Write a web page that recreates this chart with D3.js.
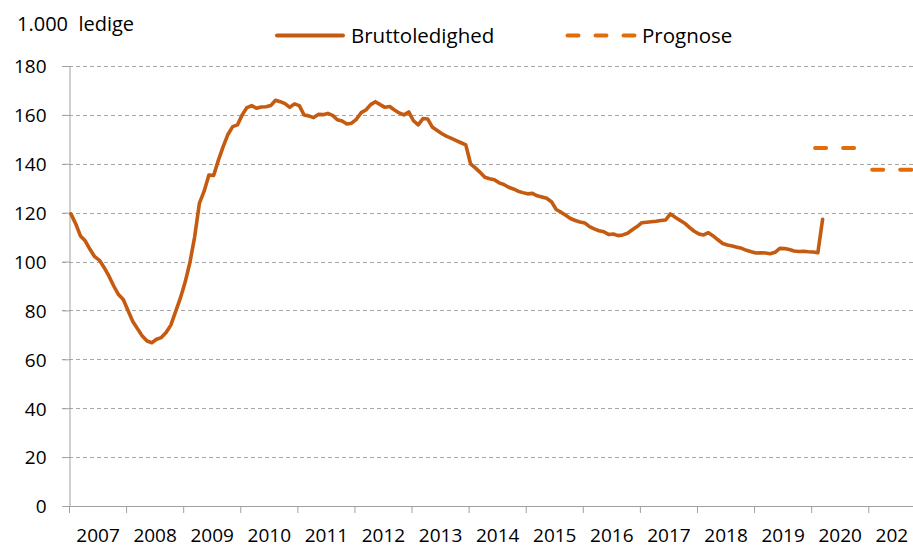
<!DOCTYPE html>
<html>
<head>
<meta charset="utf-8">
<script src="https://cdn.jsdelivr.net/npm/d3@7"></script>
<style>
  html, body { margin: 0; padding: 0; background: #fff; overflow: hidden; }
  svg { display: block; overflow: hidden; }
  text { font-family: "Open Sans", "Noto Sans", sans-serif; fill: #000; white-space: pre; }
</style>
</head>
<body>
<svg id="chart" width="913" height="547"></svg>
<script>
// ---- Data ----
const startYear = 2007;
// Monthly gross unemployment (1.000 persons), Jan 2007 .. Mar 2020
const bruttoledighed = [
  119.5, 115.5, 110.5, 108.5, 105.0, 102.0, 100.5, 97.5, 94.0, 90.0, 86.5, 84.5,
  80.0, 75.5, 72.5, 69.5, 67.5, 66.8, 68.2, 68.9, 71.0, 74.0, 79.5, 85.0,
  91.5, 99.5, 110.0, 123.8, 128.8, 135.4, 135.2, 141.5, 147.0, 152.0, 155.2, 155.9,
  160.0, 163.0, 163.8, 162.7, 163.2, 163.3, 163.8, 166.0, 165.4, 164.6, 163.1, 164.5,
  163.8, 160.0, 159.6, 158.9, 160.2, 160.1, 160.6, 159.8, 158.0, 157.5, 156.3, 156.6,
  158.2, 160.9, 162.0, 164.2, 165.4, 164.2, 163.1, 163.4, 162.0, 160.8, 160.0, 161.2,
  157.6, 155.9, 158.5, 158.3, 154.9, 153.6, 152.3, 151.2, 150.4, 149.5, 148.6, 147.7,
  140.0, 138.3, 136.5, 134.5, 133.9, 133.5, 132.2, 131.5, 130.4, 129.7, 128.8, 128.2,
  127.7, 127.9, 126.9, 126.4, 125.9, 124.5, 121.3, 120.2, 118.9, 117.6, 116.8, 116.2,
  115.8, 114.3, 113.4, 112.6, 112.2, 111.1, 111.3, 110.6, 110.9, 111.6, 113.0, 114.3,
  115.9, 116.1, 116.3, 116.5, 116.8, 117.0, 119.5, 118.1, 116.9, 115.7, 114.0, 112.4,
  111.3, 110.9, 111.8, 110.5, 108.9, 107.4, 106.8, 106.4, 105.9, 105.4, 104.6, 104.0,
  103.5, 103.6, 103.5, 103.2, 103.8, 105.4, 105.3, 104.9, 104.3, 104.1, 104.2, 104.0,
  103.9, 103.6, 117.3
];
// Forecast (annual level)
const prognoseYears = [2020, 2021];
const prognoseValues = [146.5, 137.6];

const yearLabels = ["2007","2008","2009","2010","2011","2012","2013","2014","2015","2016","2017","2018","2019","2020","2021"];
const yTicks = [0, 20, 40, 60, 80, 100, 120, 140, 160, 180];

const titleText = "1.000  ledige";
const legendLabels = ["Bruttoledighed", "Prognose"];

// ---- Layout ----
const svg = d3.select("#chart");
const x0 = 69.5, yearW = 57.09;
const x = d3.scaleLinear().domain([2007, 2022]).range([x0, x0 + 15 * yearW]);
const y = d3.scaleLinear().domain([0, 180]).range([506, 66]);

const mainColor = "#C55A11";
const progColor = "#E36C09";
const axisColor = "#A0A0A0";
const gridColor = "#A6A6A6";

svg.append("defs").append("clipPath").attr("id", "edge")
  .append("rect").attr("x", 0).attr("y", -10).attr("width", 909).attr("height", 60);

// gridlines
svg.append("g").selectAll("line").data(yTicks.filter(d => d > 0)).join("line")
  .attr("x1", 62).attr("x2", 913)
  .attr("y1", d => Math.round(y(d)) + 0.5).attr("y2", d => Math.round(y(d)) + 0.5)
  .attr("stroke", gridColor).attr("stroke-width", 1).attr("stroke-dasharray", "4,3");

// Y axis
const yAxis = d3.axisLeft(y).tickValues(yTicks).tickSize(7).tickPadding(15).tickFormat(d3.format("d"));
const gy = svg.append("g").attr("transform", `translate(${x0},0)`).call(yAxis);
gy.select(".domain").attr("stroke", axisColor);
gy.selectAll(".tick line").attr("stroke", axisColor);
gy.selectAll(".tick text").attr("font-size", 19).attr("font-family", "Open Sans").attr("fill", "#000").attr("dy", "0.36em").attr("x", -23);

// X axis (year ticks at boundaries, labels centred on years)
const tickYears = d3.range(2007, 2023);
const gx = svg.append("g").attr("transform", "translate(0,506)");
gx.append("line").attr("x1", x0).attr("x2", 913).attr("y1", 0.5).attr("y2", 0.5).attr("stroke", axisColor);
gx.selectAll("line.tk").data(tickYears).join("line").attr("class", "tk")
  .attr("x1", d => x(d)).attr("x2", d => x(d)).attr("y1", 0).attr("y2", 7)
  .attr("stroke", axisColor);
gx.append("g").attr("clip-path", "url(#edge)")
  .selectAll("text").data(yearLabels).join("text")
  .attr("x", d => x(+d + 0.5)).attr("y", 35.5)
  .attr("text-anchor", "middle").attr("font-size", 19).text(d => d);

// Main line
const monthX = i => x(startYear + (i + 0.3) / 12);
const line = d3.line().x((d, i) => monthX(i)).y(d => y(d));
svg.append("path").datum(bruttoledighed)
  .attr("d", line).attr("fill", "none").attr("stroke", mainColor)
  .attr("stroke-width", 3.6).attr("stroke-linejoin", "round").attr("stroke-linecap", "round");

// Forecast segments
prognoseYears.forEach((yr, k) => {
  const pts = [[x(yr + 0.3 / 12), y(prognoseValues[k])], [x(yr + 11.3 / 12), y(prognoseValues[k])]];
  svg.append("path").attr("d", d3.line()(pts))
    .attr("fill", "none").attr("stroke", progColor).attr("stroke-width", 4)
    .attr("stroke-linecap", "round").attr("stroke-dasharray", "11,17")
    .attr("transform", "translate(2,0)");
});

// Title
svg.append("text").attr("x", 17).attr("y", 30.5).attr("font-size", 20).text(titleText);

// Legend
svg.append("line").attr("x1", 277).attr("x2", 343).attr("y1", 35.5).attr("y2", 35.5)
  .attr("stroke", mainColor).attr("stroke-width", 4).attr("stroke-linecap", "round");
svg.append("text").attr("x", 351).attr("y", 43).attr("font-size", 20.5).text(legendLabels[0]);
svg.append("line").attr("x1", 567.5).attr("x2", 636).attr("y1", 35.5).attr("y2", 35.5)
  .attr("stroke", progColor).attr("stroke-width", 4).attr("stroke-linecap", "round")
  .attr("stroke-dasharray", "11,17");
svg.append("text").attr("x", 642).attr("y", 43).attr("font-size", 20.5).text(legendLabels[1]);
</script>
</body>
</html>
